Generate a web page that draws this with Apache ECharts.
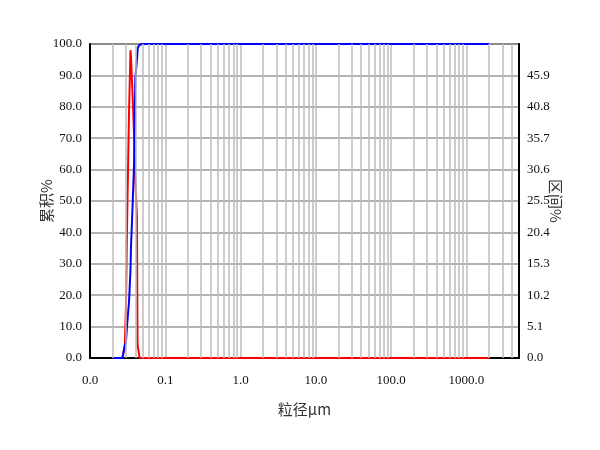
<!DOCTYPE html>
<html>
<head>
<meta charset="utf-8">
<script src="https://cdn.jsdelivr.net/npm/echarts@6/dist/echarts.min.js"></script>
<style>html,body{margin:0;padding:0;background:#fff;}#c{width:600px;height:450px;}</style>
</head>
<body>
<div id="c"></div>
<script>
// Particle size (μm)
var sizes     = [0.0200, 0.0270, 0.0290, 0.0300, 0.0310, 0.0330, 0.0345, 0.0350, 0.0370, 0.0385, 0.0390, 0.0400, 0.0420, 0.0428, 0.0430, 0.0450, 0.0455, 0.0500, 0.1, 1, 10, 100, 1000, 2000];
// 区间% (right axis)
var interval  = [0, 0, 2.0, 8.0, 21.0, 40.0, 50.0, 49.0, 42.0, 36.0, 33.0, 29.0, 23.0, 3.0, 2.0, 0.5, 0, 0, 0, 0, 0, 0, 0, 0];
// 累积% (left axis)
var cumulative= [0, 0, 4.0, 5.0, 10.0, 18.0, 28.0, 35.0, 50.0, 62.0, 70.0, 89.0, 95.0, 97.5, 98.5, 99.7, 100, 100, 100, 100, 100, 100, 100, 100];
// minor vertical grid positions
var minorGrid = [0.02,0.03,0.04,0.05,0.06,0.07,0.08,0.09,
                 0.2,0.3,0.4,0.5,0.6,0.7,0.8,0.9,
                 2,3,4,5,6,7,8,9,
                 20,30,40,50,60,70,80,90,
                 200,300,400,500,600,700,800,900,
                 2000,3000,4000];

var redData = sizes.map(function(s,i){return [s, interval[i]];});
var blueData = sizes.map(function(s,i){return [s, cumulative[i]];});

var font = 'Liberation Serif';
var chart = echarts.init(document.getElementById('c'), null, {renderer:'canvas'});
chart.setOption({
  animation: false,
  backgroundColor: '#fff',
  grid: {left: 90, right: 81, top: 44, bottom: 92, show: true, borderColor: '#666', borderWidth: 2, backgroundColor: 'transparent'},
  xAxis: {
    type: 'log', logBase: 10, min: 0.01, max: 5000,
    name: '粒径μm', nameLocation: 'middle', nameGap: 44, nameMoveOverlap: false,
    nameTextStyle: {fontFamily: 'Noto Sans CJK SC', fontSize: 15, color: '#333'},
    axisLine: {show: true, lineStyle: {color: '#000', width: 2}},
    axisTick: {show: false},
    axisLabel: {margin: 16, fontFamily: font, fontSize: 13, color: '#111',
      formatter: function(v){ if (v > 1500) return ''; return v.toFixed(1); }},
    splitLine: {show: true, lineStyle: {color: '#bdbdbd', width: 1.5}},
    minorTick: {show: false}
  },
  yAxis: [{
    type: 'value', min: 0, max: 100, interval: 10, position: 'left',
    name: '累积%', nameLocation: 'middle', nameGap: 36, nameRotate: 90, nameMoveOverlap: false,
    nameTextStyle: {fontFamily: 'Noto Sans CJK SC', fontSize: 15, color: '#333'},
    axisLine: {show: true, lineStyle: {color: '#000', width: 2}},
    axisTick: {show: false},
    axisLabel: {margin: 8, fontFamily: font, fontSize: 13, color: '#111',
      formatter: function(v){ return v.toFixed(1); }},
    splitLine: {show: true, lineStyle: {color: '#999', width: 1.5}}
  },{
    type: 'value', min: 0, max: 51, interval: 5.1, position: 'right',
    name: '区间%', nameLocation: 'middle', nameGap: 29, nameRotate: -90, nameMoveOverlap: false,
    nameTextStyle: {fontFamily: 'Noto Sans CJK SC', fontSize: 15, color: '#333'},
    axisLine: {show: true, lineStyle: {color: '#000', width: 2}},
    axisTick: {show: false},
    axisLabel: {margin: 8, fontFamily: font, fontSize: 13, color: '#111',
      formatter: function(v){ if (v > 50) return ''; return v.toFixed(1); }},
    splitLine: {show: false}
  }],
  series: [{
    type: 'line', data: [], xAxisIndex: 0, yAxisIndex: 0, silent: true,
    markLine: {silent: true, symbol: 'none', label: {show: false}, animation: false,
      lineStyle: {color: '#bdbdbd', width: 1.5, type: 'solid'},
      data: minorGrid.map(function(v){return {xAxis: v};})}
  },{
    name: '区间', type: 'line', yAxisIndex: 1, data: redData, showSymbol: false,
    lineStyle: {color: '#ff0000', width: 2}, itemStyle: {color: '#ff0000'}, z: 3
  },{
    name: '累积', type: 'line', yAxisIndex: 0, data: blueData, showSymbol: false,
    lineStyle: {color: '#0000ff', width: 2}, itemStyle: {color: '#0000ff'}, z: 4
  }]
});
</script>
</body>
</html>
